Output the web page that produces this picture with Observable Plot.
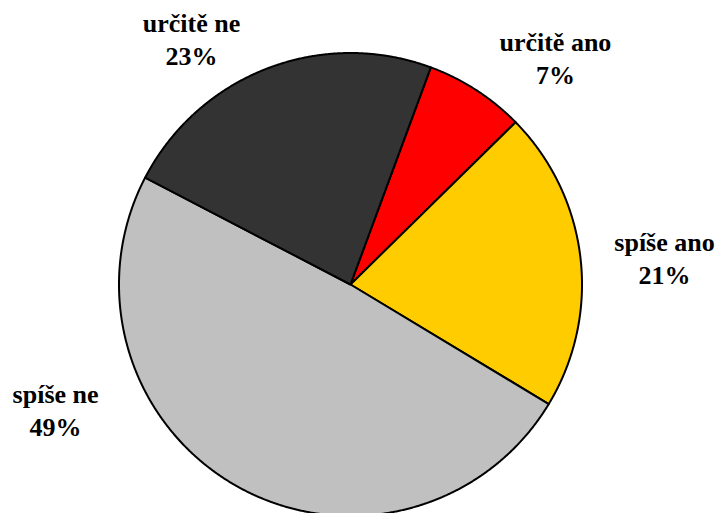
<!DOCTYPE html>
<html>
<head>
<meta charset="utf-8">
<script src="https://cdn.jsdelivr.net/npm/d3@7"></script>
<script src="https://cdn.jsdelivr.net/npm/@observablehq/plot@0.6"></script>
<style>
  html, body { margin: 0; padding: 0; background: #fff; }
  #chart svg { display: block; }
</style>
</head>
<body>
<div id="chart"></div>
<script>
// ---- data ----
const categories = ["určitě ano", "spíše ano", "spíše ne", "určitě ne"];
const percents = [7, 21, 49, 23];
const colors = ["#FF0000", "#FFCC00", "#C0C0C0", "#333333"];

// ---- layout ----
const W = 716, H = 513;
const cx = 350, cy = 284, R = 231.5;     // pixel centre & radius of the pie
const startAngle = 20.3;                  // degrees clockwise from 12 o'clock
// label block placement: angle (deg clockwise from north) and distance in radii
const labelAngle = [42.3, 85.3, 246.7, 326.9];
const labelDist = [1.315, 1.361, 1.387, 1.258];

const rad = d => d * Math.PI / 180;
const total = d3.sum(percents);

// build slice polygons from the values
const rows = [];
let a0 = startAngle;
categories.forEach((c, i) => {
  const a1 = a0 + percents[i] / total * 360;
  rows.push({slice: c, x: 0, y: 0});
  const steps = Math.max(2, Math.ceil((a1 - a0) / 0.25));
  for (let k = 0; k <= steps; k++) {
    const a = rad(a0 + (a1 - a0) * k / steps);
    rows.push({slice: c, x: Math.sin(a), y: Math.cos(a)});
  }
  a0 = a1;
});

const labels = categories.map((c, i) => ({
  name: c,
  pct: percents[i] + "%",
  x: labelDist[i] * Math.sin(rad(labelAngle[i])),
  y: labelDist[i] * Math.cos(rad(labelAngle[i]))
}));

const chart = Plot.plot({
  width: W,
  height: H,
  margin: 0,
  style: "font-family: Liberation Serif; background: #fff;",
  x: {domain: [-cx / R, (W - cx) / R], range: [0, W], axis: null},
  y: {domain: [-(H - cy) / R, cy / R], range: [H, 0], axis: null},
  color: {domain: categories, range: colors},
  marks: [
    Plot.line(rows, {
      x: "x", y: "y", z: "slice", fill: "slice",
      stroke: "#000", strokeWidth: 2, strokeLinejoin: "round",
      curve: "linear-closed"
    }),
    Plot.text(labels, {x: "x", y: "y", text: "name", dy: -16.5,
      fontFamily: "Liberation Serif", fontWeight: "bold", fontSize: 26,
      textAnchor: "middle", fill: "#000"}),
    Plot.text(labels, {x: "x", y: "y", text: "pct", dy: 16.5,
      fontFamily: "Liberation Serif", fontWeight: "bold", fontSize: 26,
      textAnchor: "middle", fill: "#000"})
  ]
});
d3.select(chart).selectAll("text")
  .style("font-family", "Liberation Serif")
  .style("font-weight", "bold")
  .style("font-size", "26px");
document.getElementById("chart").appendChild(chart);
</script>
</body>
</html>
